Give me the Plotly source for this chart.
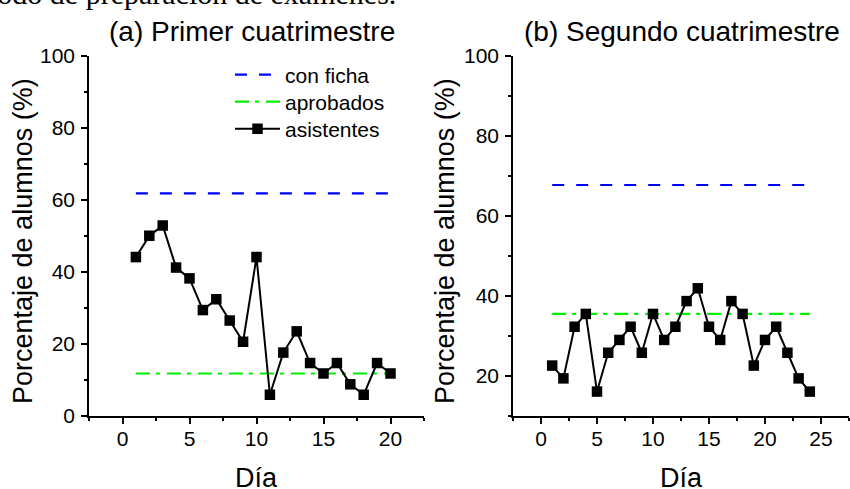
import plotly.graph_objects as go

W, H = 850, 489

# ---------------- data ----------------
dias_a = list(range(1, 21))
asistentes_a = [44.1, 50.0, 52.9, 41.2, 38.2, 29.4, 32.4, 26.5, 20.6, 44.1,
                5.9, 17.6, 23.5, 14.7, 11.8, 14.7, 8.8, 5.9, 14.7, 11.8]
con_ficha_a = 61.8
aprobados_a = 11.8

dias_b = list(range(1, 25))
asistentes_b = [22.6, 19.4, 32.3, 35.5, 16.1, 25.8, 29.0, 32.3, 25.8, 35.5,
                29.0, 32.3, 38.7, 41.9, 32.3, 29.0, 38.7, 35.5, 22.6, 29.0,
                32.3, 25.8, 19.4, 16.1]
con_ficha_b = 67.7
aprobados_b = 35.5

titulos = ["(a) Primer cuatrimestre", "(b) Segundo cuatrimestre"]
nombres = ["con ficha", "aprobados", "asistentes"]
ylabel = "Porcentaje de alumnos (%)"
xlabel = "Día"

FONT = "Liberation Sans, Arial, sans-serif"


def px(x):
    return x / W


def py(y):
    return 1 - y / H


fig = go.Figure()

legend_ids = ["legend", "legend2", "legend3"]
panels = [
    (dias_a, asistentes_a, con_ficha_a, aprobados_a, "x", "y", True),
    (dias_b, asistentes_b, con_ficha_b, aprobados_b, "x2", "y2", False),
]
for dias, asis, ficha, apro, xa, ya, showleg in panels:
    xs = [dias[0], dias[-1]]
    fig.add_trace(go.Scatter(x=xs, y=[ficha, ficha], mode="lines", name=nombres[0],
                             line=dict(color="#0000ff", width=2.2, dash="12px,12px"),
                             xaxis=xa, yaxis=ya, showlegend=showleg, legend=legend_ids[0]))
    fig.add_trace(go.Scatter(x=xs, y=[apro, apro], mode="lines", name=nombres[1],
                             line=dict(color="#00ee00", width=2.2, dash="14px,6px,4px,7px"),
                             xaxis=xa, yaxis=ya, showlegend=showleg, legend=legend_ids[1]))
    fig.add_trace(go.Scatter(x=dias, y=asis, mode="lines+markers", name=nombres[2],
                             line=dict(color="black", width=2),
                             marker=dict(symbol="square", size=10.5, color="black",
                                         line=dict(width=0)),
                             xaxis=xa, yaxis=ya, showlegend=showleg, legend=legend_ids[2]))

axis_common = dict(showline=True, linecolor="black", linewidth=1.5, mirror=False,
                   ticks="outside", ticklen=6, tickwidth=1.5, tickcolor="black",
                   showgrid=False, zeroline=False, automargin=False,
                   tickfont=dict(family=FONT, size=21, color="black"))
minor_common = dict(ticks="outside", ticklen=3.5, tickwidth=1.5, tickcolor="black")

leg_common = dict(xanchor="left", yanchor="middle", bgcolor="rgba(0,0,0,0)",
                  font=dict(family=FONT, size=21, color="black"), itemwidth=45)

fig.update_layout(
    width=W, height=H,
    margin=dict(l=0, r=0, t=0, b=0),
    paper_bgcolor="white", plot_bgcolor="white",
    font=dict(family=FONT, color="black"),
    xaxis=dict(domain=[px(89), px(424)], range=[-2.5, 22.5], tick0=0, dtick=5,
               minor=dict(dtick=2.5, **minor_common), ticklabelstandoff=-3,
               anchor="y", **axis_common),
    yaxis=dict(domain=[py(416), py(55.7)], range=[0, 100], tick0=0, dtick=20,
               minor=dict(dtick=10, **minor_common), ticklabelstandoff=2,
               anchor="x", **axis_common),
    xaxis2=dict(domain=[px(513), px(849)], range=[-2.5, 27.5], tick0=0, dtick=5,
                minor=dict(dtick=2.5, **minor_common), ticklabelstandoff=-3,
                anchor="y2", **axis_common),
    yaxis2=dict(domain=[py(416), py(55.7)], range=[10, 100], tick0=0, dtick=20,
                minor=dict(dtick=10, **minor_common), ticklabelstandoff=2,
                anchor="x2", **axis_common),
    legend=dict(x=px(230), y=py(75), **leg_common),
    legend2=dict(x=px(230), y=py(102), **leg_common),
    legend3=dict(x=px(230), y=py(129), **leg_common),
    showlegend=True,
)

ann = []
# clipped sentence from the document above the figure
ann.append(dict(text="riodo de preparación de exámenes.", x=px(398), y=py(12),
                xref="paper", yref="paper", xanchor="right", yanchor="bottom",
                showarrow=False,
                font=dict(family="Liberation Serif, Times New Roman, serif", size=30,
                          color="black")))
for cx, t in [(252, titulos[0]), (682, titulos[1])]:
    ann.append(dict(text=t, x=px(cx), y=py(31), xref="paper", yref="paper",
                    xanchor="center", yanchor="middle", showarrow=False,
                    font=dict(family=FONT, size=28, color="black")))
for cx in [256.5, 681]:
    ann.append(dict(text=xlabel, x=px(cx), y=py(478), xref="paper", yref="paper",
                    xanchor="center", yanchor="middle", showarrow=False,
                    font=dict(family=FONT, size=27, color="black")))
for cx in [23, 445]:
    ann.append(dict(text=ylabel, x=px(cx), y=py(241), xref="paper", yref="paper",
                    xanchor="center", yanchor="middle", textangle=-90, showarrow=False,
                    font=dict(family=FONT, size=27, color="black")))
fig.update_layout(annotations=ann)

fig.write_html("out.html",
               config={"displayModeBar": False},
               post_script="document.body.style.margin='0px';"
                           "document.body.style.overflow='hidden';")
